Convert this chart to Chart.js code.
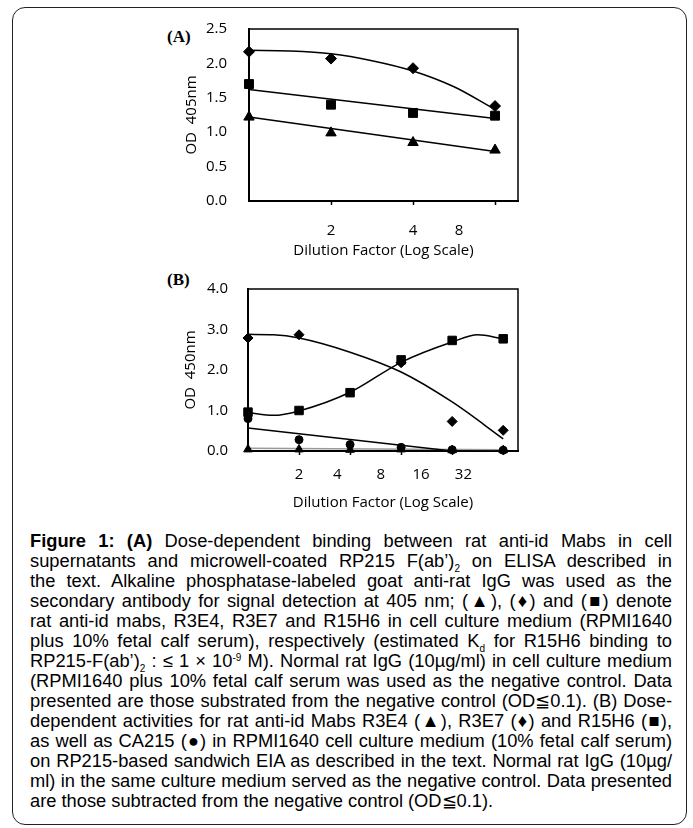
<!DOCTYPE html>
<html>
<head>
<meta charset="utf-8">
<script src="https://cdn.jsdelivr.net/npm/chart.js@4.4.0/dist/chart.umd.min.js"></script>
<style>
  body { margin: 0; background: #fff; }
  #page { position: relative; width: 693px; height: 828px; overflow: hidden; }
  #frame { position: absolute; left: 12px; top: 7px; width: 675px; height: 818px; box-sizing: border-box;
           border: 1.5px solid #222; border-radius: 13px; }
  canvas { position: absolute; }
  .panel { position: absolute; font-family: 'Liberation Serif', serif; font-weight: bold; font-size: 17px; color: #000; }
  #caption { position: absolute; left: 30px; top: 531px; width: 642px; font-family: 'Liberation Sans', Arial, sans-serif;
             font-size: 18.3px; line-height: 20px; color: #000; }
  #caption div { text-align: justify; text-align-last: justify; height: 20px; }
  #caption div.last { text-align-last: left; }
  sub { font-size: 10px; vertical-align: -5px; line-height: 0; }
  sup { font-size: 10px; vertical-align: 6px; line-height: 0; }
</style>
</head>
<body>
<div id="page">
  <div id="frame"></div>
  <div class="panel" style="left:167px; top:27px;">(A)</div>
  <div class="panel" style="left:167px; top:270px;">(B)</div>
  <canvas id="chartA" width="380" height="250" style="left:150px; top:17px; width:380px; height:250px;"></canvas>
  <canvas id="chartB" width="380" height="250" style="left:150px; top:277px; width:380px; height:250px;"></canvas>
  <div id="caption">
    <div><b>Figure 1: (A)</b> Dose-dependent binding between rat anti-id Mabs in cell</div>
    <div>supernatants and microwell-coated RP215 F(ab’)<sub>2</sub> on ELISA described in</div>
    <div>the text. Alkaline phosphatase-labeled goat anti-rat IgG was used as the</div>
    <div>secondary antibody for signal detection at 405 nm; (▲), (♦) and (■) denote</div>
    <div>rat anti-id mabs, R3E4, R3E7 and R15H6 in cell culture medium (RPMI1640</div>
    <div>plus 10% fetal calf serum), respectively (estimated K<sub>d</sub> for R15H6 binding to</div>
    <div>RP215-F(ab’)<sub>2</sub> : ≤ 1 × 10<sup>-9</sup> M). Normal rat IgG (10µg/ml) in cell culture medium</div>
    <div>(RPMI1640 plus 10% fetal calf serum was used as the negative control. Data</div>
    <div>presented are those substrated from the negative control (OD≦0.1). (B) Dose-</div>
    <div>dependent activities for rat anti-id Mabs R3E4 (▲), R3E7 (♦) and R15H6 (■),</div>
    <div>as well as CA215 (●) in RPMI1640 cell culture medium (10% fetal calf serum)</div>
    <div>on RP215-based sandwich EIA as described in the text. Normal rat IgG (10µg/</div>
    <div>ml) in the same culture medium served as the negative control. Data presented</div>
    <div class="last">are those subtracted from the negative control (OD≦0.1).</div>
  </div>
</div>
<script>
// panel A: dilution steps 1,2,4,8 at positions 0..3
const xA = [0, 1, 2, 3];
const r3e7A = [2.17, 2.07, 1.93, 1.38];
const r15h6A = [1.70, 1.40, 1.28, 1.24];
const r3e4A = [1.22, 0.99, 0.85, 0.74];
// trend lines
const r3e7TrendXA = [0, 0.5, 1, 1.5, 2, 2.5, 3];
const r3e7TrendA = [2.19, 2.18, 2.14, 2.04, 1.89, 1.66, 1.33];
const r15h6TrendXA = [0, 3];
const r15h6TrendA = [1.62, 1.20];
const r3e4TrendXA = [0, 3];
const r3e4TrendA = [1.22, 0.72];
const tickLabelsA = ['2', '4', '8'];
const tickLabelPosA = [1, 2, 2.56];
const tickMarkPosA = [1, 2, 3];

// panel B: dilution steps 1..32 at positions 0..5
const xB = [0, 1, 2, 3, 4, 5];
const r3e7B = [2.79, 2.87, null, 2.18, 0.73, 0.51];
const r15h6B = [0.96, 1.00, 1.44, 2.25, 2.73, 2.77];
const ca215B = [0.80, 0.28, 0.16, 0.09, 0.03, 0.02];
const r3e4B = [0.04, 0.04, 0.03, 0.04, 0.02, 0.02];
const r3e7TrendXB = [0, 0.5, 1, 2, 3, 4, 5];
const r3e7TrendB = [2.88, 2.87, 2.79, 2.44, 1.95, 1.21, 0.30];
const r15h6TrendXB = [0, 0.5, 1, 2, 3, 4, 4.5, 5];
const r15h6TrendB = [0.95, 0.88, 0.99, 1.45, 2.19, 2.69, 2.87, 2.77];
const ca215TrendXB = [0, 4];
const ca215TrendB = [0.57, 0.0];
const r3e4TrendXB = [0, 5];
const r3e4TrendB = [0.07, 0.03];
const tickLabelsB = ['2', '4', '8', '16', '32'];
const tickLabelPosB = [1, 1.75, 2.6, 3.39, 4.22];
const tickMarkPosB = [1, 2, 3, 4, 5];

const INK = '#000';
const tickFont = { family: "'Open Sans', sans-serif", size: 15 };
const titleFont = { family: "'Open Sans', sans-serif", size: 15 };

function pts(xs, ys) {
    return xs.map((x, i) => ({ x: x, y: ys[i] }));
}

function markers(label, xs, ys, style, radius) {
    return {
        label: label,
        data: pts(xs, ys),
        showLine: false,
        pointStyle: style,
        pointRadius: radius,
        pointBackgroundColor: INK,
        pointBorderColor: INK,
        pointBorderWidth: 1,
        clip: false,
        order: 0
    };
}

function trend(xs, ys, color, curved) {
    return {
        data: pts(xs, ys),
        showLine: true,
        borderColor: color,
        borderWidth: 1.5,
        pointRadius: 0,
        tension: curved ? 0.4 : 0,
        cubicInterpolationMode: curved ? 'monotone' : 'default',
        clip: false,
        order: 1
    };
}

// box around the plot area (top and right edges)
const boxPlugin = {
    id: 'box',
    afterDraw(chart) {
        const a = chart.chartArea;
        const ctx = chart.ctx;
        ctx.save();
        ctx.strokeStyle = INK;
        ctx.lineWidth = 1.5;
        ctx.strokeRect(a.left, a.top, a.right - a.left, a.bottom - a.top);
        ctx.restore();
    }
};

function makeChart(id, cfg) {
    const labelMap = {};
    cfg.labelPos.forEach((p, i) => labelMap[p] = cfg.labels[i]);
    const allTicks = [...new Set(cfg.labelPos.concat(cfg.markPos))].sort((a, b) => a - b);

    return new Chart(document.getElementById(id).getContext('2d'), {
        type: 'scatter',
        data: { datasets: cfg.datasets },
        options: {
            responsive: false,
            animation: false,
            layout: { padding: { top: 12, right: 12, left: 0, bottom: 0 } },
            plugins: { legend: { display: false }, tooltip: { enabled: false } },
            scales: {
                x: {
                    type: 'linear',
                    min: 0,
                    max: cfg.xMax,
                    afterBuildTicks: (axis) => { axis.ticks = allTicks.map(v => ({ value: v })); },
                    afterFit: (axis) => { axis.height = cfg.xHeight; },
                    ticks: {
                        autoSkip: false,
                        maxRotation: 0,
                        padding: cfg.xTickPad,
                        color: INK,
                        font: tickFont,
                        callback: (v) => labelMap[v] !== undefined ? labelMap[v] : ''
                    },
                    grid: {
                        drawOnChartArea: false,
                        drawTicks: true,
                        tickLength: 4,
                        tickWidth: 1.5,
                        tickColor: (c) => cfg.markPos.includes(c.tick && c.tick.value) ? INK : 'rgba(0,0,0,0)'
                    },
                    border: { color: INK, width: 2 },
                    title: {
                        display: true,
                        text: 'Dilution Factor (Log Scale)',
                        color: INK,
                        font: titleFont,
                        padding: { top: 0, bottom: cfg.xTitlePad }
                    }
                },
                y: {
                    min: 0,
                    max: cfg.yMax,
                    afterFit: (axis) => { axis.width = cfg.yWidth; },
                    ticks: {
                        stepSize: cfg.yStep,
                        padding: 0,
                        color: INK,
                        font: tickFont,
                        callback: (v) => v.toFixed(1)
                    },
                    // invisible tick marks keep the labels away from the axis
                    grid: {
                        drawOnChartArea: false,
                        drawTicks: true,
                        tickLength: cfg.yTickGap,
                        tickColor: 'rgba(0,0,0,0)'
                    },
                    border: { color: INK, width: 2 },
                    title: {
                        display: true,
                        text: cfg.yTitle,
                        color: INK,
                        font: titleFont,
                        padding: { top: cfg.yTitlePad, bottom: 0 }
                    }
                }
            }
        },
        plugins: [boxPlugin]
    });
}

makeChart('chartA', {
    xMax: 3.28, yMax: 2.5, yStep: 0.5,
    xHeight: 66, xTickPad: 17, xTitlePad: 7,
    yWidth: 99, yTickGap: 22, yTitlePad: 33,
    yTitle: 'OD  405nm',
    labels: tickLabelsA, labelPos: tickLabelPosA, markPos: tickMarkPosA,
    datasets: [
        markers('R3E7', xA, r3e7A, 'rectRot', 5.5),
        markers('R15H6', xA, r15h6A, 'rect', 6.3),
        markers('R3E4', xA, r3e4A, 'triangle', 6),
        trend(r3e7TrendXA, r3e7TrendA, INK, true),
        trend(r15h6TrendXA, r15h6TrendA, INK, false),
        trend(r3e4TrendXA, r3e4TrendA, INK, false)
    ]
});

makeChart('chartB', {
    xMax: 5.29, yMax: 4, yStep: 1,
    xHeight: 76, xTickPad: 11, xTitlePad: 15,
    yWidth: 98, yTickGap: 20, yTitlePad: 32,
    yTitle: 'OD  450nm',
    labels: tickLabelsB, labelPos: tickLabelPosB, markPos: tickMarkPosB,
    datasets: [
        markers('R3E7', xB, r3e7B, 'rectRot', 5),
        markers('R15H6', xB, r15h6B, 'rect', 6),
        markers('CA215', xB, ca215B, 'circle', 4),
        markers('R3E4', xB, r3e4B, 'triangle', 5),
        trend(r3e7TrendXB, r3e7TrendB, INK, true),
        trend(r15h6TrendXB, r15h6TrendB, INK, true),
        trend(ca215TrendXB, ca215TrendB, INK, false),
        trend(r3e4TrendXB, r3e4TrendB, '#999', false)
    ]
});
</script>
</body>
</html>
